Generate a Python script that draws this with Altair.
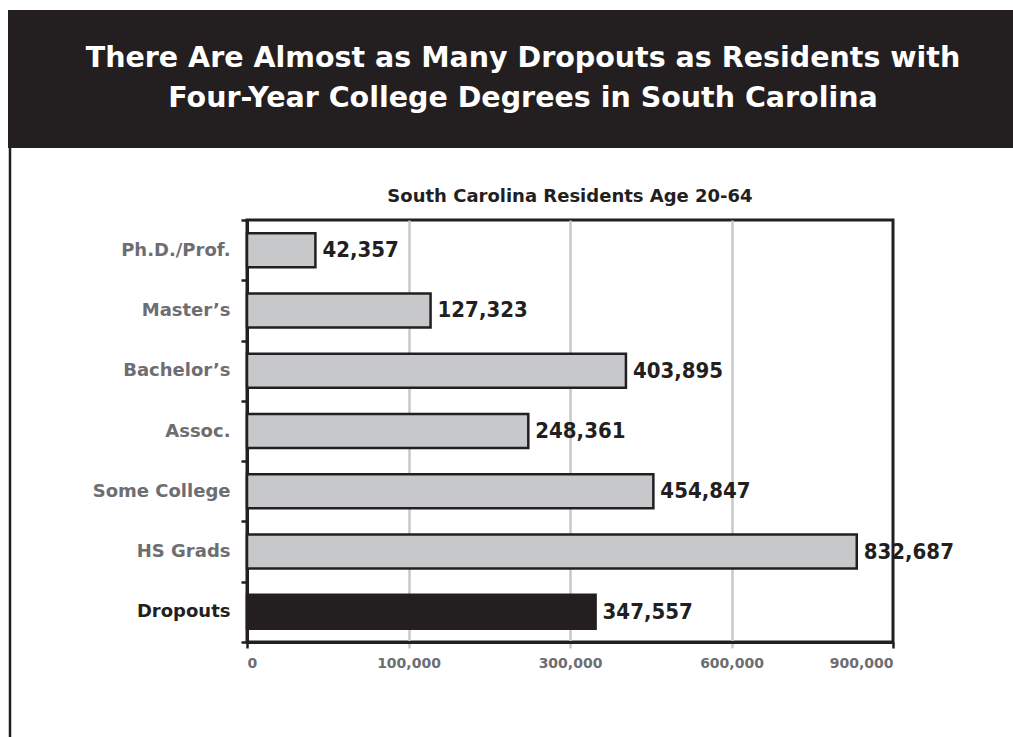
import altair as alt
import pandas as pd

categories = ["Ph.D./Prof.", "Master’s", "Bachelor’s", "Assoc.", "Some College", "HS Grads", "Dropouts"]
values = [42357, 127323, 403895, 248361, 454847, 832687, 347557]
kinds = ["other", "other", "other", "other", "other", "other", "dropout"]
x_ticks = [0, 100000, 300000, 600000, 900000]

title_lines = "There Are Almost as Many Dropouts as Residents with\nFour-Year College Degrees in South Carolina"
subtitle = "South Carolina Residents Age 20-64"

DARK = "#231f20"
GRAY_TXT = "#6d6e71"
BAR_FILL = "#c7c8ca"
GRID = "#c8c8c8"

W, H = 646, 422
df = pd.DataFrame({"category": categories, "value": values, "kind": kinds})

LABEL_FONT = "DejaVu Sans"
NUM_FONT = "DejaVu Sans Condensed"

edge = "datum.value == 0 || datum.value == 900000"

y_enc = alt.Y(
    "category:N", sort=categories,
    scale=alt.Scale(paddingInner=0, paddingOuter=0),
    axis=alt.Axis(
        title=None, tickBand="extent", tickSize=6, tickColor=DARK, tickWidth=2.5,
        domainColor=DARK, domainWidth=3, labelFont=LABEL_FONT, labelFontWeight="bold",
        labelFontSize=18, labelPadding=11,
        labelColor=alt.condition("datum.value == 'Dropouts'", alt.value(DARK), alt.value(GRAY_TXT)),
    ),
)
x_enc = alt.X(
    "value:Q",
    scale=alt.Scale(domain=x_ticks, range=[0, W / 4, W / 2, 3 * W / 4, W], nice=False, zero=False),
    axis=alt.Axis(
        title=None, values=x_ticks, labelExpr="format(datum.value, ',')", tickSize=6, tickWidth=2.5,
        tickColor=alt.condition(edge, alt.value(DARK), alt.value(GRID)),
        grid=True, gridWidth=2.5,
        gridColor=alt.condition(edge, alt.value("transparent"), alt.value(GRID)),
        domainColor=DARK, domainWidth=3, labelFont=LABEL_FONT, labelFontWeight="bold",
        labelFontSize=14, labelColor=GRAY_TXT, labelPadding=8,
    ),
)

base = alt.Chart(df)
bars = base.mark_bar(size=34, stroke=DARK, strokeWidth=2.5).encode(
    y=y_enc, x=x_enc,
    fill=alt.Fill("kind:N", scale=alt.Scale(domain=["other", "dropout"], range=[BAR_FILL, DARK]), legend=None),
)
labels = base.mark_text(
    align="left", baseline="middle", dx=7, font=NUM_FONT, fontSize=22, fontWeight="bold", color=DARK
).encode(y=alt.Y("category:N", sort=categories), x=alt.X("value:Q"), text=alt.Text("value:Q", format=","))

one = alt.Data(values=[{}])
header = alt.Chart(one).mark_rect(color=DARK).encode(
    x=alt.value(-239), x2=alt.value(766), y=alt.value(-210), y2=alt.value(-72)
)
header_text = alt.Chart(one).mark_text(
    lineBreak="\n", align="center", baseline="middle", font=LABEL_FONT, fontSize=28.5,
    fontWeight="bold", color="white", lineHeight=40,
).encode(x=alt.value(276), y=alt.value(-162), text=alt.value(title_lines))
left_rule = alt.Chart(one).mark_rule(color=DARK, strokeWidth=2.5).encode(
    x=alt.value(-237), y=alt.value(-72), y2=alt.value(517)
)
sub = alt.Chart(one).mark_text(
    align="center", baseline="middle", font=LABEL_FONT, fontSize=18, fontWeight="bold", color=DARK
).encode(x=alt.value(W / 2), y=alt.value(-23), text=alt.value(subtitle))

chart = alt.layer(header, header_text, left_rule, sub, bars, labels).properties(
    width=W, height=H,
    padding={"left": 247, "top": 220, "right": 120, "bottom": 95},
    autosize="none", background="white",
).configure_view(stroke=DARK, strokeWidth=3)

chart.save("out.html", embed_options={"renderer": "svg", "actions": False})
